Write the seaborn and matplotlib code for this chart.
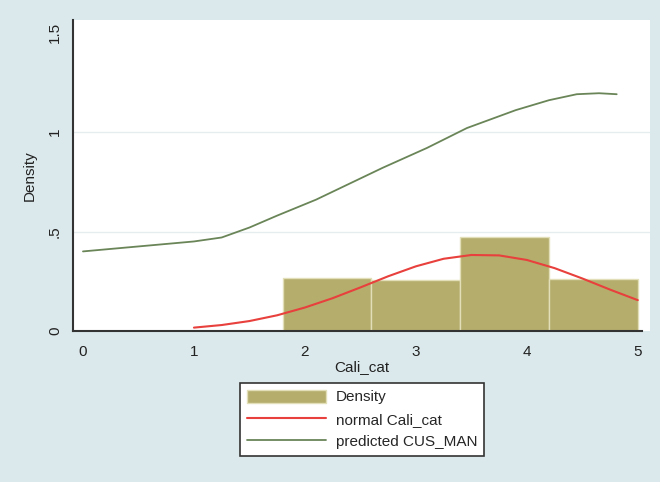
import numpy as np
import matplotlib
matplotlib.use("Agg")
import matplotlib.pyplot as plt
import seaborn as sns

# histogram of Cali_cat (density scale), bins of width 0.8
bin_edges = [1.8, 2.6, 3.4, 4.2, 5.0]
bin_density = [0.265, 0.255, 0.47, 0.26]

# normal curve over Cali_cat
norm_x = [1.0, 1.25, 1.5, 1.75, 2.0, 2.25, 2.5, 2.75, 3.0, 3.25, 3.5, 3.75,
          4.0, 4.25, 4.5, 4.75, 5.0]
norm_y = [0.017, 0.030, 0.050, 0.079, 0.118, 0.165, 0.219, 0.275, 0.325, 0.363,
          0.382, 0.380, 0.357, 0.316, 0.264, 0.208, 0.155]

# predicted CUS_MAN
pred_x = [0.0, 0.5, 1.0, 1.25, 1.5, 1.75, 2.1, 2.4, 2.7, 3.1, 3.46, 3.9, 4.2,
          4.45, 4.65, 4.81]
pred_y = [0.40, 0.425, 0.45, 0.47, 0.52, 0.58, 0.66, 0.74, 0.82, 0.92, 1.02,
          1.11, 1.16, 1.19, 1.195, 1.19]

x_ticks = [0, 1, 2, 3, 4, 5]
y_ticks = [0, 0.5, 1, 1.5]
y_ticklabels = ["0", ".5", "1", "1.5"]

sns.set_style("white")
plt.rcParams['font.family'] = ['Liberation Sans', 'DejaVu Sans']

bg = "#dce9ec"
bar_col = "#b4ad6c"
red = "#e8403c"
green = "#6a8558"

fig = plt.figure(figsize=(6.6, 4.82), dpi=100, facecolor=bg)
ax = fig.add_axes([73 / 660, 1 - 331 / 482, (650 - 73) / 660, (331 - 20) / 482])
ax.set_facecolor("white")

for g in [0.5, 1.0]:
    ax.axhline(g, color="#e6edef", lw=1, zorder=0)

mids = [(a + b) / 2 for a, b in zip(bin_edges[:-1], bin_edges[1:])]
sns.histplot(x=mids, weights=bin_density, bins=bin_edges, stat="count",
             color=bar_col, alpha=1, edgecolor="#e2dfb8", linewidth=1,
             ax=ax, label="Density", zorder=2)
sns.lineplot(x=norm_x, y=norm_y, color=red, lw=1.5, ax=ax,
             label="normal Cali_cat", zorder=3)
sns.lineplot(x=pred_x, y=pred_y, color=green, lw=1.3, ax=ax,
             label="predicted CUS_MAN", zorder=3)

ax.set_xlim(-0.09, 5.11)
ax.set_ylim(0, 1.563)
ax.set_xticks(x_ticks)
ax.set_yticks(y_ticks)
ax.set_yticklabels(y_ticklabels, rotation=90, va="center")
ax.tick_params(axis="both", direction="out", length=5, width=1.2,
               color="#333333", labelsize=11, labelcolor="#222222")
ax.tick_params(axis="x", pad=5)
ax.tick_params(axis="y", pad=3)

for s in ["top", "right"]:
    ax.spines[s].set_visible(False)
for s in ["left", "bottom"]:
    ax.spines[s].set_color("#333333")
    ax.spines[s].set_linewidth(1.5)
ax.spines["bottom"].set_bounds(-0.09, 5.04)

ax.set_xlabel("Cali_cat", fontsize=11, color="#222222", labelpad=1)
ax.set_ylabel("Density", fontsize=11, color="#222222", labelpad=8)

handles, labels = ax.get_legend_handles_labels()
if ax.legend_:
    ax.legend_.remove()
order = [labels.index(n) for n in ["Density", "normal Cali_cat", "predicted CUS_MAN"]]
leg = fig.legend([handles[i] for i in order], [labels[i] for i in order],
                 loc="upper center", bbox_to_anchor=(362 / 660, 1 - 383 / 482),
                 fontsize=11, frameon=True, fancybox=False, edgecolor="#333333",
                 facecolor="white", framealpha=1, handlelength=5.2,
                 handleheight=0.9, labelspacing=0.5, borderpad=0.45,
                 handletextpad=0.6, borderaxespad=0)
leg.get_frame().set_linewidth(1.2)

fig.savefig("out.png", dpi=100, facecolor=bg)
